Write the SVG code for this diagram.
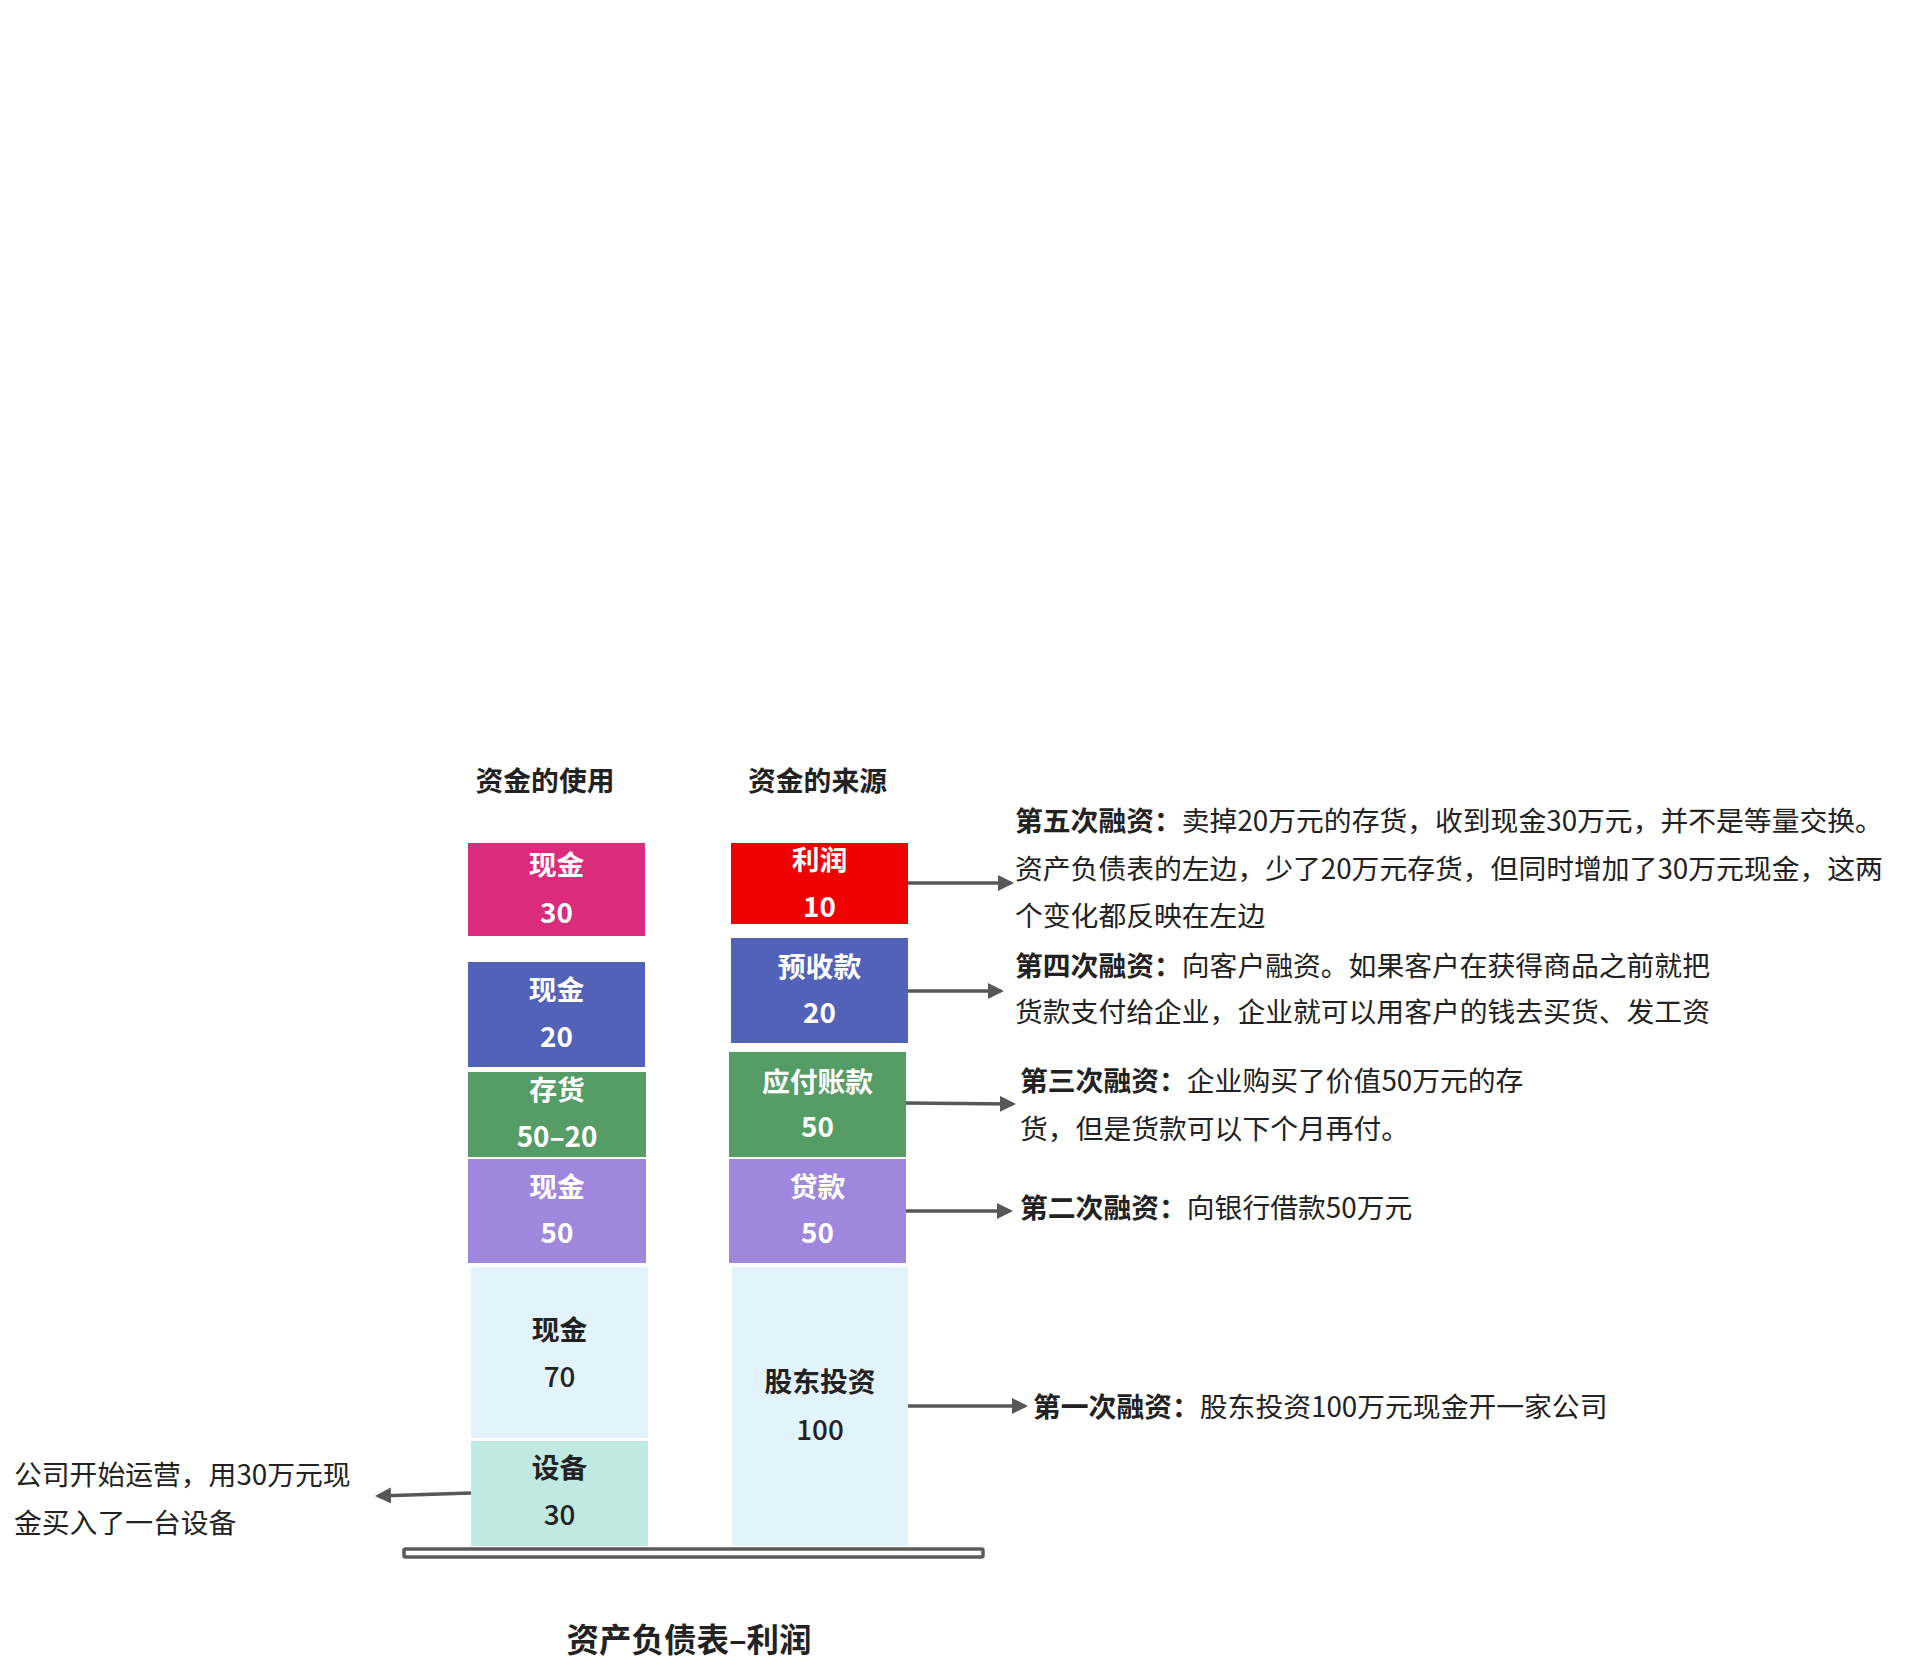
<svg xmlns="http://www.w3.org/2000/svg" width="1923" height="1678" viewBox="0 0 1923 1678">
<defs>
<style>
text{font-family:"Noto Sans CJK SC","Noto Sans",sans-serif;font-size:27.8px;}
.lbl{font-weight:bold;fill:#fff;text-anchor:middle;dominant-baseline:central;}
.dk{fill:#222;}
.hd{font-weight:bold;fill:#222;text-anchor:middle;dominant-baseline:central;}
.ttl{font-size:32.5px;}
.nw{font-weight:500;}
.desc{fill:#222;dominant-baseline:central;}
.b{font-weight:bold;}
.conn{stroke:#575757;stroke-width:3.5;fill:none;marker-end:url(#ah);}
</style>
<marker id="ah" markerUnits="userSpaceOnUse" markerWidth="18" markerHeight="18" refX="13" refY="8" orient="auto">
<path d="M0,0 L16,8 L0,16 z" fill="#575757"/>
</marker>
</defs>
<rect width="1923" height="1678" fill="#fff"/>

<g id="header-use"><text class="hd" x="545" y="779">资金的使用</text></g>
<g id="header-source"><text class="hd" x="817.5" y="779">资金的来源</text></g>

<g id="cash30">
<rect x="468" y="843" width="177" height="93" fill="#DA2B7C"/>
<text class="lbl" x="556.5" y="863">现金</text>
<text class="lbl" x="556.5" y="911">30</text>
</g>
<g id="cash20">
<rect x="468" y="962" width="177" height="105" fill="#5262B8"/>
<text class="lbl" x="556.5" y="988">现金</text>
<text class="lbl" x="556.5" y="1035">20</text>
</g>
<g id="inventory">
<rect x="468" y="1072" width="178" height="85" fill="#569C66"/>
<text class="lbl" x="557" y="1088">存货</text>
<text class="lbl" x="557" y="1135">50–20</text>
</g>
<g id="cash50">
<rect x="468" y="1159" width="178" height="104" fill="#A087DE"/>
<text class="lbl" x="557" y="1185">现金</text>
<text class="lbl" x="557" y="1231">50</text>
</g>
<g id="cash70">
<rect x="471" y="1267" width="177" height="171" fill="#E3F3FB"/>
<text class="lbl dk" x="559.5" y="1328">现金</text>
<text class="lbl dk nw" x="559.5" y="1375">70</text>
</g>
<g id="equipment">
<rect x="471" y="1441" width="177" height="105" fill="#BFE9E2"/>
<text class="lbl dk" x="559.5" y="1466">设备</text>
<text class="lbl dk nw" x="559.5" y="1513">30</text>
</g>

<g id="profit">
<rect x="731" y="843" width="177" height="81" fill="#F00000"/>
<text class="lbl" x="819.5" y="858">利润</text>
<text class="lbl" x="819.5" y="905">10</text>
</g>
<g id="advance">
<rect x="731" y="938" width="177" height="105" fill="#5262B8"/>
<text class="lbl" x="819.5" y="965">预收款</text>
<text class="lbl" x="819.5" y="1011">20</text>
</g>
<g id="payable">
<rect x="729" y="1052" width="177" height="105" fill="#569C66"/>
<text class="lbl" x="817.5" y="1080">应付账款</text>
<text class="lbl" x="817.5" y="1125">50</text>
</g>
<g id="loan">
<rect x="729" y="1159" width="177" height="104" fill="#A087DE"/>
<text class="lbl" x="817.5" y="1185">贷款</text>
<text class="lbl" x="817.5" y="1231">50</text>
</g>
<g id="equity">
<rect x="732" y="1267" width="176" height="279" fill="#E3F3FB"/>
<text class="lbl dk" x="820" y="1380">股东投资</text>
<text class="lbl dk nw" x="820" y="1428">100</text>
</g>

<g id="base">
<rect x="404" y="1549" width="579" height="8" rx="1.5" fill="#fff" stroke="#5a5a5a" stroke-width="3.5"/>
</g>

<g id="connectors">
<line class="conn" x1="908" y1="883" x2="1011" y2="883"/>
<line class="conn" x1="908" y1="991" x2="1001" y2="991"/>
<line class="conn" x1="906" y1="1103" x2="1013" y2="1104"/>
<line class="conn" x1="906" y1="1211" x2="1010" y2="1211"/>
<line class="conn" x1="908" y1="1406" x2="1025" y2="1406"/>
<line class="conn" x1="471" y1="1493" x2="378" y2="1496"/>
</g>

<g id="note5">
<text class="desc" x="1015" y="819"><tspan class="b">第五次融资：</tspan>卖掉20万元的存货，收到现金30万元，并不是等量交换。</text>
<text class="desc" x="1015" y="867">资产负债表的左边，少了20万元存货，但同时增加了30万元现金，这两</text>
<text class="desc" x="1015" y="914">个变化都反映在左边</text>
</g>
<g id="note4">
<text class="desc" x="1015" y="964"><tspan class="b">第四次融资：</tspan>向客户融资。如果客户在获得商品之前就把</text>
<text class="desc" x="1015" y="1010">货款支付给企业，企业就可以用客户的钱去买货、发工资</text>
</g>
<g id="note3">
<text class="desc" x="1020" y="1079"><tspan class="b">第三次融资：</tspan>企业购买了价值50万元的存</text>
<text class="desc" x="1020" y="1127">货，但是货款可以下个月再付。</text>
</g>
<g id="note2">
<text class="desc" x="1020" y="1206"><tspan class="b">第二次融资：</tspan>向银行借款50万元</text>
</g>
<g id="note1">
<text class="desc" x="1033" y="1405"><tspan class="b">第一次融资：</tspan>股东投资100万元现金开一家公司</text>
</g>
<g id="note0">
<text class="desc" x="14" y="1473">公司开始运营，用30万元现</text>
<text class="desc" x="14" y="1521">金买入了一台设备</text>
</g>

<g id="title"><text class="hd ttl" x="689" y="1637">资产负债表–利润</text></g>
</svg>
